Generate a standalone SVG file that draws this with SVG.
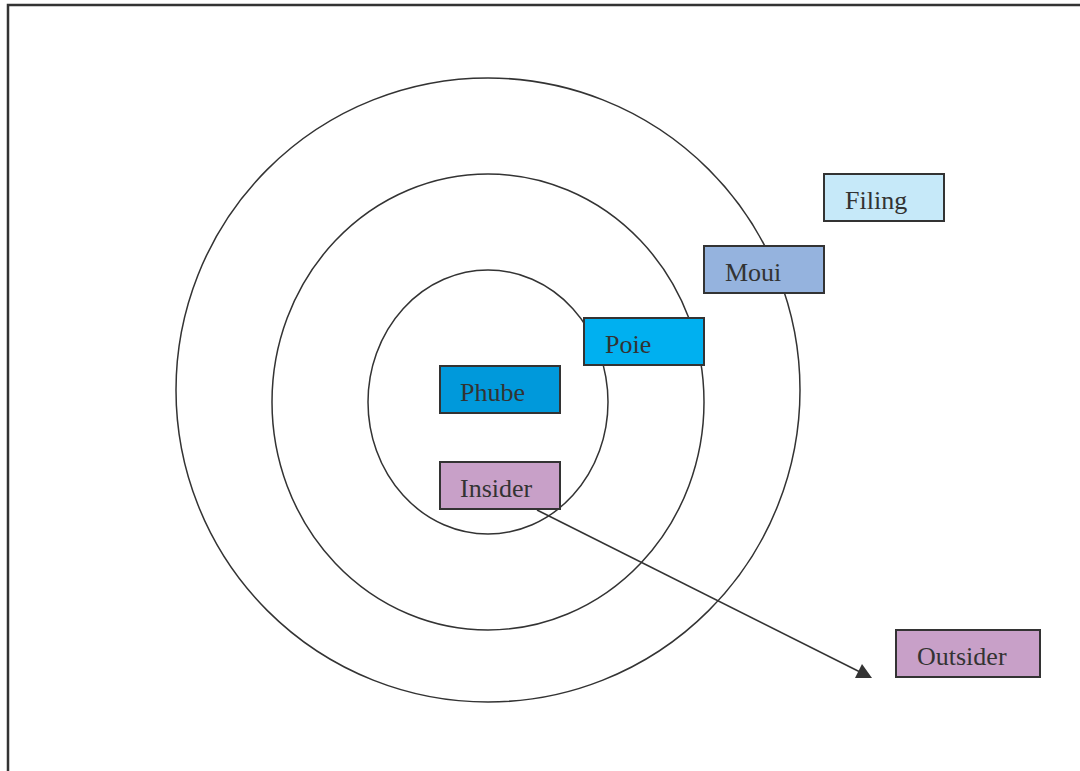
<svg xmlns="http://www.w3.org/2000/svg" width="1080" height="771" viewBox="0 0 1080 771">
<defs>
<style>
.ring{fill:none;stroke:#333333;stroke-width:1.5}
.box{stroke:#333333;stroke-width:2}
.lbl{font-family:"Liberation Serif","Times New Roman",serif;font-size:26px;fill:#333333}
.frame{fill:none;stroke:#333333;stroke-width:2.5}
.conn{stroke:#333333;stroke-width:1.5}
.head{fill:#333333}
</style>
</defs>
<rect width="1080" height="771" fill="#ffffff"/>
<path class="frame" d="M8,771 V5 H1080"/>
<g id="rings">
<ellipse class="ring" cx="488" cy="390" rx="312" ry="312"/>
<ellipse class="ring" cx="488" cy="402" rx="216" ry="228"/>
<ellipse class="ring" cx="488" cy="402" rx="120" ry="132"/>
</g>
<g id="connectors">
<line class="conn" x1="537" y1="510" x2="866" y2="675"/>
<polygon class="head" points="872,678 855,678 862,664"/>
</g>
<g id="filing"><rect class="box" x="824" y="174" width="120" height="47" fill="#C6E9F9"/><text class="lbl" x="845" y="209">Filing</text></g>
<g id="moui"><rect class="box" x="704" y="246" width="120" height="47" fill="#95B3DE"/><text class="lbl" x="725" y="281">Moui</text></g>
<g id="poie"><rect class="box" x="584" y="318" width="120" height="47" fill="#00B0F0"/><text class="lbl" x="605" y="353">Poie</text></g>
<g id="phube"><rect class="box" x="440" y="366" width="120" height="47" fill="#0099DB"/><text class="lbl" x="460" y="401">Phube</text></g>
<g id="insider"><rect class="box" x="440" y="462" width="120" height="47" fill="#C8A0C8"/><text class="lbl" x="460" y="497">Insider</text></g>
<g id="outsider"><rect class="box" x="896" y="630" width="144" height="47" fill="#C8A0C8"/><text class="lbl" x="917" y="665">Outsider</text></g>
</svg>
